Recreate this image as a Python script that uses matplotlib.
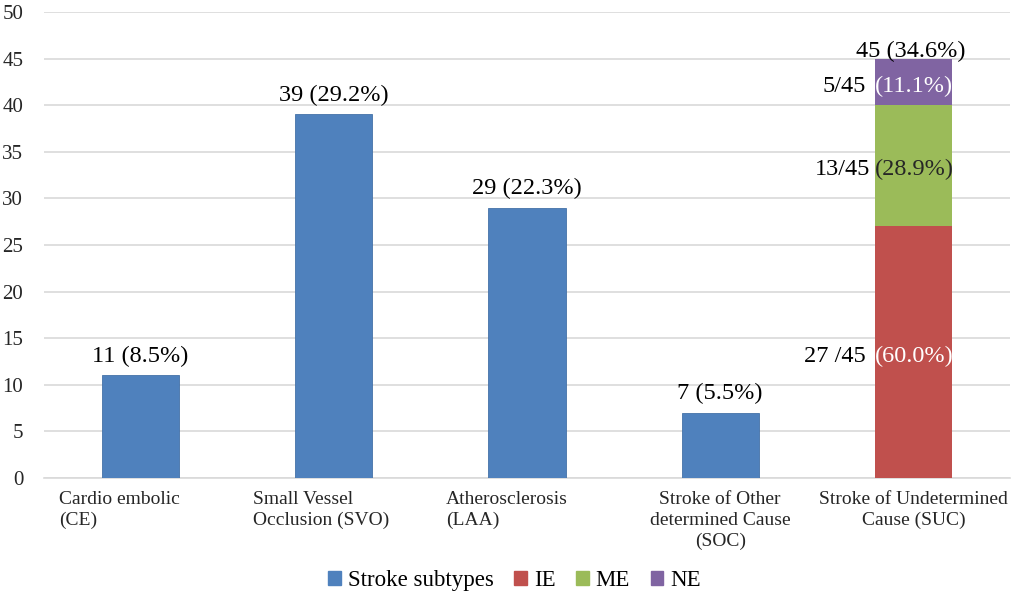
import matplotlib
matplotlib.use("Agg")
import matplotlib.pyplot as plt
from matplotlib.patches import Patch
import matplotlib.transforms as mtransforms

plt.rcParams['font.family'] = ['Liberation Serif', 'DejaVu Serif']

categories = ["Cardio embolic\n(CE)", "Small Vessel\nOcclusion (SVO)", "Atherosclerosis\n(LAA)",
              "Stroke of Other\ndetermined Cause\n(SOC)", "Stroke of Undetermined\nCause (SUC)"]
label_align = ["left", "left", "left", "center", "center"]
subtypes = [11, 39, 29, 7, 0]
subtype_labels = ["11 (8.5%)", "39 (29.2%)", "29 (22.3%)", "7 (5.5%)", ""]
ie, me, ne = 27, 13, 5
suc_total_label = "45 (34.6%)"
seg_left_labels = ["27 /45", "13/45", "5/45"]
seg_right_labels = ["(60.0%)", "(28.9%)", "(11.1%)"]
seg_right_colors = ["white", "#262626", "white"]
yticks = list(range(0, 51, 5))

c_blue, c_red, c_green, c_purple = "#4F81BD", "#C0504D", "#9BBB59", "#8064A2"

fig = plt.figure(figsize=(10.13, 5.97), dpi=100)
ax = fig.add_axes([0.0434, 0.1993, 0.9536, 0.7807])
x = list(range(len(categories)))
w = 0.4
ax.bar(x[:4], subtypes[:4], width=w, color=c_blue, edgecolor="#4472A8", linewidth=0.6, zorder=3)
sx = x[4]
ax.bar(sx, ie, width=w, color=c_red, zorder=3)
ax.bar(sx, me, bottom=ie, width=w, color=c_green, zorder=3)
ax.bar(sx, ne, bottom=ie + me, width=w, color=c_purple, zorder=3)

ax.set_xlim(-0.5, 4.5)
ax.set_ylim(0, 50)
ax.set_yticks(yticks)
ax.yaxis.grid(True, color="#D9D9D9", linewidth=1.2, zorder=0)
ax.set_axisbelow(True)
for s in ["left", "right", "top"]:
    ax.spines[s].set_visible(False)
ax.spines["bottom"].set_color("#D9D9D9")
ax.spines["bottom"].set_linewidth(1.2)
ax.tick_params(axis="both", length=0, labelsize=15, labelcolor="#262626")
ax.tick_params(axis="y", pad=15)
ax.set_xticks([])

trans = mtransforms.blended_transform_factory(ax.transData, ax.transAxes)
for xi, lab, al in zip(x, categories, label_align):
    xx = xi - 0.42 if al == "left" else xi
    ax.text(xx, -0.028, lab, transform=trans, ha=al, va="top", fontsize=14,
            linespacing=1.3, color="#262626", multialignment=al)

for xi, v, lab in zip(x[:4], subtypes[:4], subtype_labels[:4]):
    ax.annotate(lab, (xi, v), xytext=(0, 6), textcoords="offset points",
                ha="center", va="bottom", fontsize=17.5)

total = ie + me + ne
ax.annotate(suc_total_label, (sx - 0.015, total), xytext=(0, -2.5), textcoords="offset points",
            ha="center", va="bottom", fontsize=17.5)
bottoms = [0, ie, ie + me]
heights = [ie, me, ne]
left_gap = [-0.045, -0.022, -0.045]
for b, h, ll, rl, rc, g in zip(bottoms, heights, seg_left_labels, seg_right_labels,
                               seg_right_colors, left_gap):
    yc = b + h / 2
    ax.annotate(ll, (sx - w / 2 + g, yc), xytext=(0, -3), textcoords="offset points",
                ha="right", va="center", fontsize=17.5, zorder=5)
    ax.annotate(rl, (sx - w / 2, yc), xytext=(0, -3), textcoords="offset points",
                ha="left", va="center", fontsize=17.5, color=rc, zorder=5)

handles = [Patch(color=c_blue, label="Stroke subtypes"), Patch(color=c_red, label="IE"),
           Patch(color=c_green, label="ME"), Patch(color=c_purple, label="NE")]
fig.legend(handles=handles, loc="center", bbox_to_anchor=(0.508, 0.028), ncol=4, frameon=False,
           fontsize=16.5, handlelength=0.55, handleheight=0.55, handletextpad=0.3, columnspacing=0.9)

fig.savefig("out.png", dpi=100)
